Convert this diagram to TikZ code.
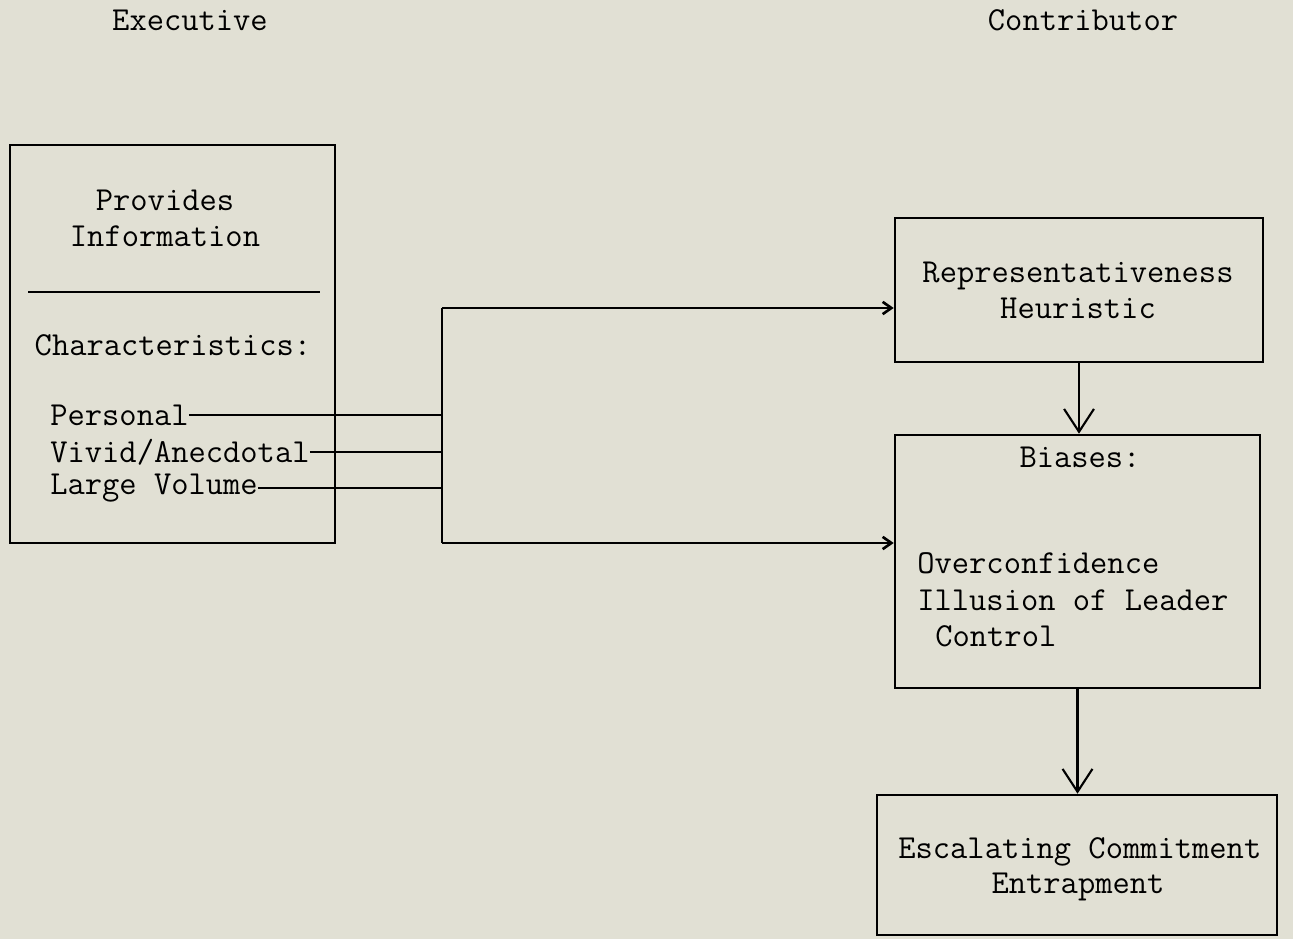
\documentclass[tikz,border=0pt]{standalone}
\usetikzlibrary{arrows.meta}
\usetikzlibrary{positioning}
\definecolor{paper}{HTML}{E1E0D4}
\tikzset{box/.style  = {draw, line width=1.5pt, inner sep=0pt},
         txt/.style  = {font=\ttfamily\fontsize{19.1}{20.4}\selectfont, inner sep=0pt, align=center},
         wire/.style = {line width=1.5pt},
         feed/.style = {wire, -{Straight Barb[length=5pt,width=7pt]}},
         drop/.style = {line width=1.2pt, -{Straight Barb[length=13pt,width=17pt]}}}

\begin{document}
\begin{tikzpicture}[x=0.02cm, y=-0.02cm]
    \fill [paper] (0, 0) rectangle (1293, 939);
    % column heads
    \node (exechead) [txt] at (190, 20) {Executive};
    \node (conthead) [txt] at (1083, 20) {Contributor};
    % executive box
    \node (exec) [box, minimum width=6.5cm, minimum height=7.96cm] at (172.5, 344) {};
    \node (provides) [txt] at (165, 218) {Provides\\Information};
    \draw [wire] (28, 292) -- (320, 292);
    \node (charac) [txt] at (173, 345) {Characteristics:};
    \node (personal) [txt, anchor=west] at (50, 415) {Personal};
    \node (vivid) [txt, anchor=west] at (50, 452) {Vivid/Anecdotal};
    \node (large) [txt, anchor=west] at (50, 488) {Large Volume};
    % contributor boxes
    \node (rep) [box, minimum width=7.36cm, minimum height=2.88cm] at (1079, 290) {};
    \node (reptext) [txt] at (1078, 290) {Representativeness\\Heuristic};
    \node (biases) [box, minimum width=7.3cm, minimum height=5.06cm] at (1077.5, 561.5) {};
    \node (biashead) [txt] at (1080, 457) {Biases:};
    \node (over) [txt, anchor=west] at (917, 563) {Overconfidence};
    \node (illusion) [txt, anchor=west] at (917, 600) {Illusion of Leader};
    \node (control) [txt, anchor=west] at (935, 636) {Control};
    \node (esc) [box, minimum width=8cm, minimum height=2.8cm] at (1077, 865) {};
    \node (esctext) [txt, anchor=west] at (898, 852) {Escalating Commitment};
    \node (entrap) [txt] at (1078, 887) {Entrapment};
    % connectors
    \coordinate (bustop) at (442, 308);
    \coordinate (busbot) at (442, 543);
    \draw [wire] (personal.east) -- (personal.east -| bustop);
    \draw [wire] (vivid.east) -- (vivid.east -| bustop);
    \draw [wire] (large.east) -- (large.east -| bustop);
    \draw [wire] (bustop) -- (busbot);
    \draw [feed] (bustop) -- (bustop -| rep.west);
    \draw [feed] (busbot) -- (busbot -| biases.west);
    \draw [drop] (rep.south) -- (rep.south |- biases.north);
    \draw [drop] (biases.south) -- (biases.south |- esc.north);
\end{tikzpicture}
\end{document}
